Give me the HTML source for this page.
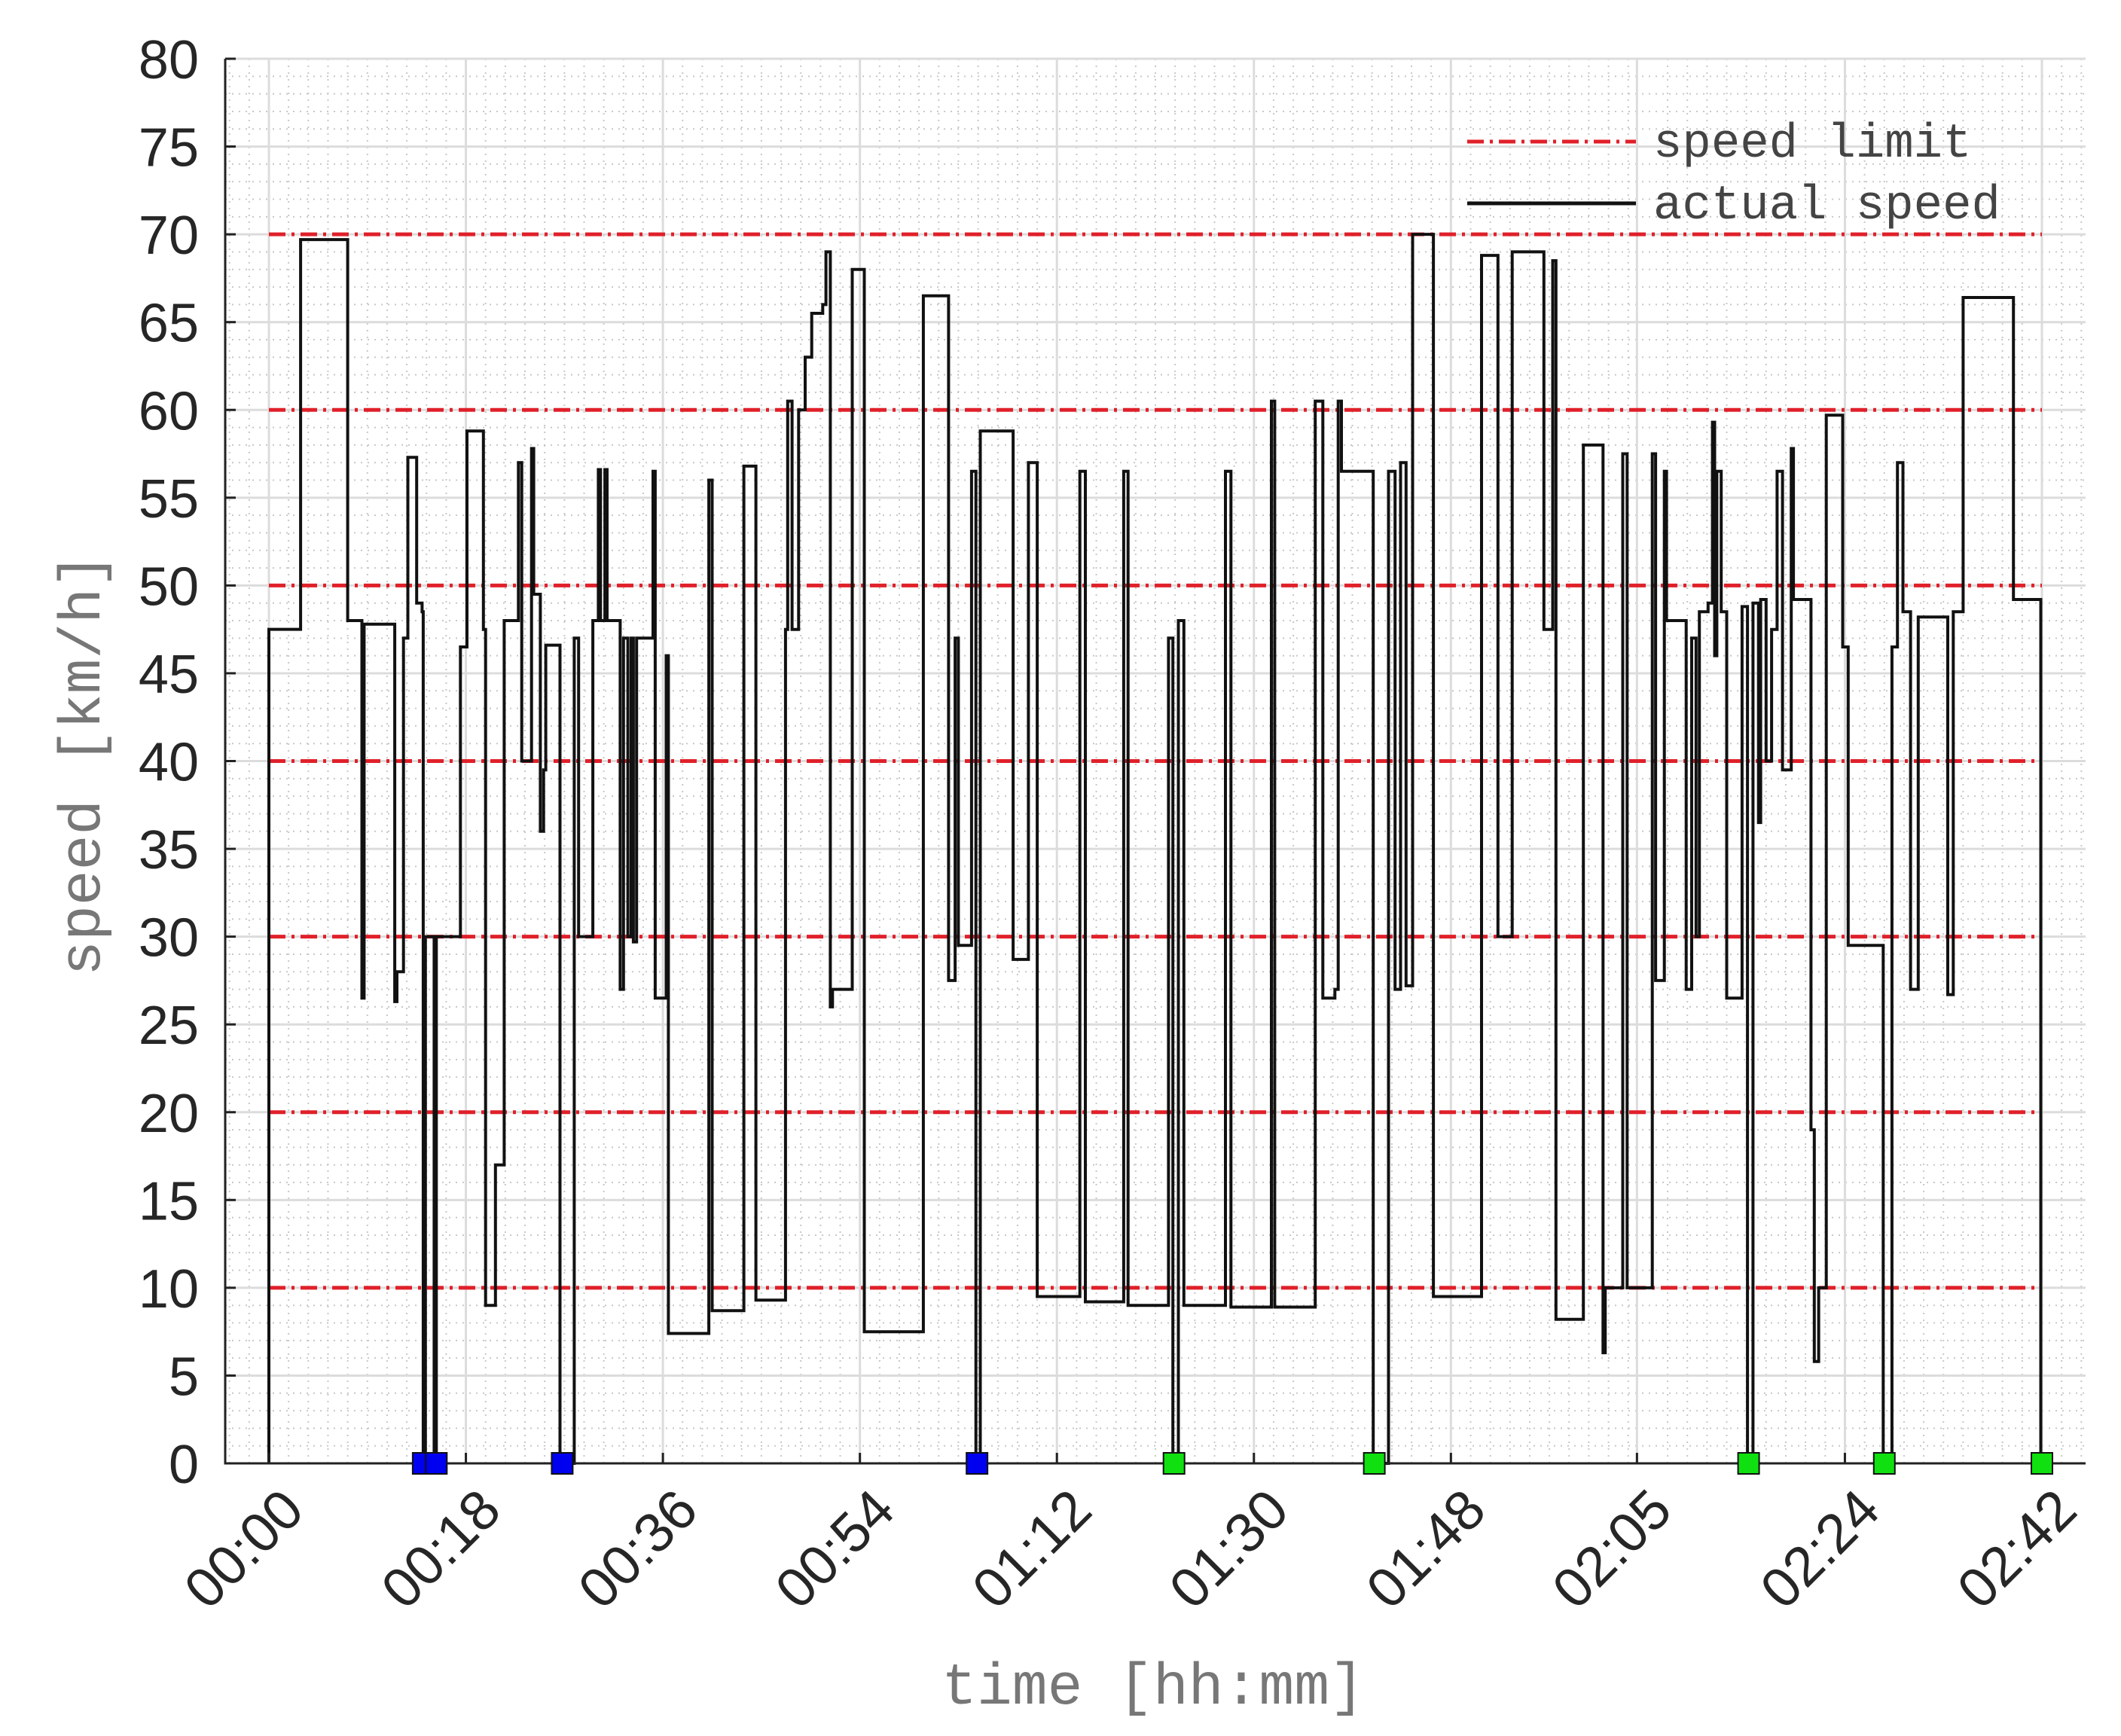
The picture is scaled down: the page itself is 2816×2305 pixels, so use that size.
<!DOCTYPE html>
<html><head><meta charset="utf-8"><style>
html,body{margin:0;padding:0;background:#fff;}
svg{display:block;}
</style></head><body>
<svg id="chart" width="2816" height="2305" viewBox="0 0 2816 2305" xmlns="http://www.w3.org/2000/svg">
<rect width="2816" height="2305" fill="#fff"/>
<g id="grid"></g>
<g id="limits"></g>
<g id="series"></g>
<g id="axes"></g>
<g id="markers"></g>
<text x="1531" y="2262" text-anchor="middle" font-family="Liberation Mono, monospace" font-size="78" fill="#777">time [hh:mm]</text>
<text transform="translate(132,1015) rotate(-90)" text-anchor="middle" font-family="Liberation Mono, monospace" font-size="78" fill="#777">speed [km/h]</text>
<g>
<line x1="1948" y1="188" x2="2172" y2="188" stroke="#e0202a" stroke-width="5" stroke-dasharray="22,8,4,8"/>
<text x="2195" y="208" font-family="Liberation Mono, monospace" font-size="64" fill="#444">speed limit</text>
<line x1="1948" y1="270" x2="2172" y2="270" stroke="#111" stroke-width="5"/>
<text x="2195" y="290" font-family="Liberation Mono, monospace" font-size="64" fill="#444">actual speed</text>
</g>
</svg>
<script>
const xTickMinutes = [0,18,36,54,72,90,108,125,144,162];
const xTickLabels = ["00:00","00:18","00:36","00:54","01:12","01:30","01:48","02:05","02:24","02:42"];
const yTicks = [0,5,10,15,20,25,30,35,40,45,50,55,60,65,70,75,80];
const speedLimits = [10,20,30,40,50,60,70];
const times = [0,2.9,7.2,8.5,8.7,11.5,11.7,12.3,12.7,13.5,14.0,14.1,14.3,15.1,15.3,17.5,18.1,19.6,19.8,20.7,21.5,22.8,23.1,24.0,24.2,24.8,25.1,25.3,26.6,27.9,28.3,29.6,30.1,30.3,30.7,30.9,32.1,32.4,32.8,33.1,33.3,33.6,35.1,35.3,36.3,36.5,40.2,40.5,43.4,44.5,47.2,47.4,47.8,48.4,49.0,49.6,50.6,50.9,51.3,51.5,53.3,54.4,59.8,62.1,62.7,63.0,64.2,64.6,65.0,68.0,69.4,70.2,74.1,74.6,78.1,78.5,82.2,82.6,83.1,83.6,87.4,87.9,91.6,91.9,95.6,96.3,97.4,97.7,98.0,100.9,102.3,102.9,103.4,103.9,104.5,106.4,110.8,112.3,113.6,116.5,117.3,117.6,120.1,121.9,122.1,123.7,124.1,126.4,126.7,127.5,127.7,129.5,130.0,130.4,130.7,131.5,131.9,132.1,132.3,132.7,133.2,134.6,135.1,135.6,136.1,136.3,136.8,137.3,137.8,138.3,139.1,139.3,140.9,141.2,141.6,142.3,143.8,144.3,147.5,148.3,148.8,149.3,150.0,150.7,153.4,153.9,154.8,159.4,161.9,162.0];
const speeds = [47.5,69.7,48,26.5,47.8,26.3,28,47,57.3,49,48.5,0,30,0,30,46.5,58.8,47.5,9,17,48,57,40,57.8,49.5,36,39.5,46.6,0,47,30,48,56.6,48,56.6,48,27,47,30,47,29.7,47,56.5,26.5,46,7.4,56,8.7,56.8,9.3,47.5,60.5,47.5,60,63,65.5,66,69,26,27,68,7.5,66.5,27.5,47,29.5,56.5,0,58.8,28.7,57,9.5,56.5,9.2,56.5,9,47,0,48,9,56.5,8.9,60.5,8.9,60.5,26.5,27,60.5,56.5,0,56.5,27,57,27.2,70,9.5,68.8,30,69,47.5,68.5,8.2,58,6.3,10,57.5,10,57.5,27.5,56.5,48,27,47,30,48.5,49,59.3,46,56.5,48.5,26.5,48.8,0,49,36.5,49.2,40,47.5,56.5,39.5,57.8,49.2,19,5.8,10,59.7,46.5,29.5,0,46.5,57,48.5,27,48.2,26.7,48.5,66.4,49.2,0,0];
const blueStops = [14.1,15.3,26.8,64.7];
const greenStops = [82.7,101.0,135.2,147.6,162.0];

const NS="http://www.w3.org/2000/svg";
const X0=357, XS=2354/162, Y0=1943, YS=1865/80, LEFT=299, RIGHT=2769, TOP=78;
const xs=t=>X0+t*XS, ys=v=>Y0-v*YS;
function mk(tag,parent,attrs){const e=document.createElementNS(NS,tag);for(const k in attrs)e.setAttribute(k,attrs[k]);parent.appendChild(e);return e;}
const grid=document.getElementById('grid'), axes=document.getElementById('axes');
for(let v=0;v<=80;v+=1){ if(v%5===0) continue;
  const l=mk('line',grid,{x1:LEFT,x2:RIGHT,y1:ys(v),y2:ys(v),stroke:'#c8c8c8','stroke-width':2,'stroke-dasharray':'2,7'});
  
  
}
const tMin=(LEFT-X0)/XS, tMax=(RIGHT-X0)/XS;
for(let t=Math.ceil(tMin/1.8)*1.8;t<=tMax;t+=1.8){ if(Math.abs(t/18-Math.round(t/18))<0.01) continue;
  const l=mk('line',grid,{x1:xs(t),x2:xs(t),y1:TOP,y2:Y0,stroke:'#c8c8c8','stroke-width':2,'stroke-dasharray':'2,7'});
  
  
}
yTicks.forEach(v=>{
  const l=mk('line',grid,{x1:LEFT,x2:RIGHT,y1:ys(v),y2:ys(v),stroke:'#dcdcdc','stroke-width':3});
  
  
  const tk=mk('line',axes,{x1:LEFT,x2:LEFT+14,y1:ys(v),y2:ys(v),stroke:'#222','stroke-width':3});
  
  
  const tx=mk('text',axes,{x:264,y:ys(v)+26,'text-anchor':'end','font-family':'Liberation Sans, sans-serif','font-size':72,fill:'#262626'});
  tx.textContent=v;
  
  
});
xTickMinutes.forEach((t,i)=>{
  const l=mk('line',grid,{x1:xs(t),x2:xs(t),y1:TOP,y2:Y0,stroke:'#dcdcdc','stroke-width':3});
  
  
  const tk=mk('line',axes,{x1:xs(t),x2:xs(t),y1:Y0,y2:Y0-14,stroke:'#222','stroke-width':3});
  
  
  const tx=mk('text',axes,{transform:`translate(${xs(t)+50},${Y0+66}) rotate(-45)`,'text-anchor':'end','font-family':'Liberation Sans, sans-serif','font-size':74,fill:'#262626'});
  tx.textContent=xTickLabels[i];
  
  
});
const ax=mk('path',axes,{d:`M${LEFT},${TOP} V${Y0} H${RIGHT}`,fill:'none',stroke:'#222','stroke-width':3});


const lg=document.getElementById('limits');
speedLimits.forEach(v=>{
  const l=mk('line',lg,{x1:xs(0),x2:xs(162),y1:ys(v),y2:ys(v),stroke:'#e0202a','stroke-width':5,'stroke-dasharray':'22,8,4,8'});
  
  
});
let d=`M${xs(times[0])},${ys(0)} V${ys(speeds[0])}`;
for(let i=1;i<times.length;i++){ d+=` H${xs(times[i]).toFixed(1)} V${ys(speeds[i]).toFixed(1)}`; }
const p=mk('path',document.getElementById('series'),{d:d,fill:'none',stroke:'#111','stroke-width':4});


const mg=document.getElementById('markers');
blueStops.forEach(t=>{
  const r=mk('rect',mg,{x:xs(t)-14,y:Y0-14,width:28,height:28,fill:'#0000f0',stroke:'#111','stroke-width':2});
  
  
});
greenStops.forEach(t=>{
  const r=mk('rect',mg,{x:xs(t)-14,y:Y0-14,width:28,height:28,fill:'#10e010',stroke:'#111','stroke-width':2});
  
  
});
</script>
</body></html>
